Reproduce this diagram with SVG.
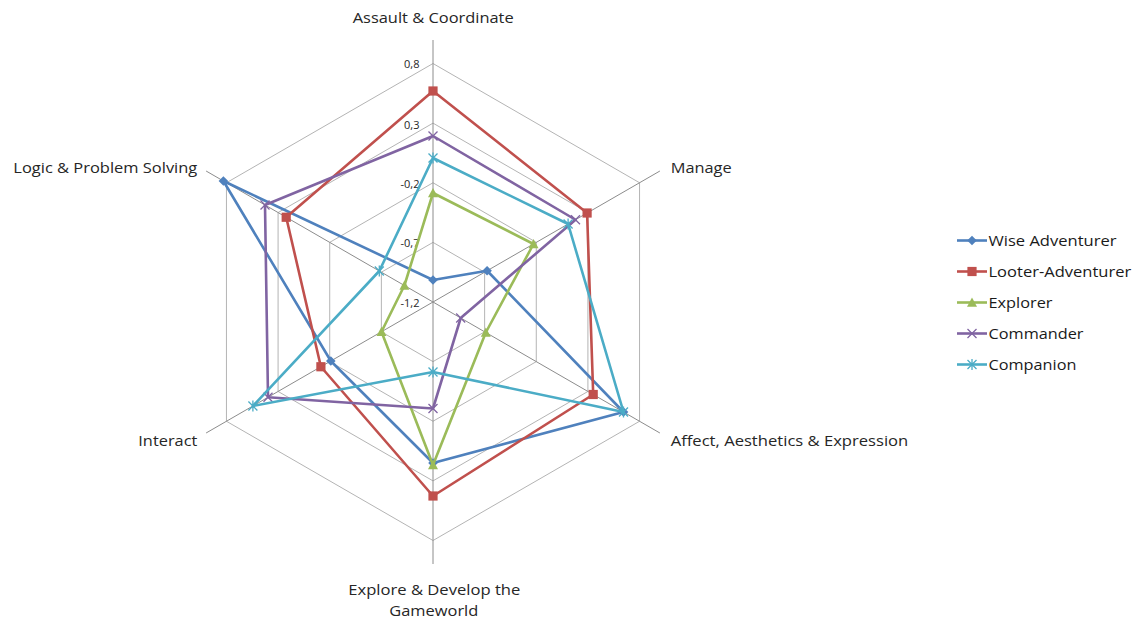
<svg xmlns="http://www.w3.org/2000/svg" width="1142" height="624" viewBox="0 0 1142 624">
<style>
.grid{fill:none;stroke:#b4b4b4;stroke-width:1}
.spoke{stroke:#8c8c8c;stroke-width:1}
.s{fill:none;stroke-width:2.6;stroke-linejoin:round}
.lbl{font-family:"Open Sans","Liberation Sans",sans-serif;font-size:14.5px;fill:#262626}
.tick{font-family:"Open Sans","Liberation Sans",sans-serif;font-size:11px;fill:#262626;text-anchor:end}
.leg{font-family:"Open Sans","Liberation Sans",sans-serif;font-size:15px;fill:#1a1a1a}
</style>
<defs>
<marker id="mDia" markerUnits="userSpaceOnUse" markerWidth="12" markerHeight="12" viewBox="-6 -6 12 12" refX="0" refY="0" overflow="visible"><polygon points="0,-4.8 4.8,0 0,4.8 -4.8,0" fill="#4F81BD"/></marker>
<marker id="mSq" markerUnits="userSpaceOnUse" markerWidth="12" markerHeight="12" viewBox="-6 -6 12 12" refX="0" refY="0" overflow="visible"><rect x="-4.6" y="-4.6" width="9.2" height="9.2" fill="#C0504D"/></marker>
<marker id="mTri" markerUnits="userSpaceOnUse" markerWidth="12" markerHeight="12" viewBox="-6 -6 12 12" refX="0" refY="0" overflow="visible"><polygon points="0,-5 5,4.2 -5,4.2" fill="#9BBB59"/></marker>
<marker id="mX" markerUnits="userSpaceOnUse" markerWidth="12" markerHeight="12" viewBox="-6 -6 12 12" refX="0" refY="0" overflow="visible"><path d="M-4.5,-4.5L4.5,4.5M-4.5,4.5L4.5,-4.5" stroke="#8064A2" stroke-width="1.3" fill="none"/></marker>
<marker id="mAst" markerUnits="userSpaceOnUse" markerWidth="12" markerHeight="12" viewBox="-6 -6 12 12" refX="0" refY="0" overflow="visible"><path d="M-4.5,-4.5L4.5,4.5M-4.5,4.5L4.5,-4.5M0,-5.5L0,5.5" stroke="#4BACC6" stroke-width="1.3" fill="none"/></marker>
</defs>
<rect width="1142" height="624" fill="#ffffff"/>
<g id="grid">
<polygon class="grid" points="433,242.38 484.64,272.19 484.64,331.81 433,361.63 381.36,331.81 381.36,272.19"/>
<polygon class="grid" points="433,182.75 536.27,242.37 536.27,361.63 433,421.25 329.73,361.63 329.73,242.37"/>
<polygon class="grid" points="433,123.13 587.91,212.56 587.91,391.44 433,480.88 278.09,391.44 278.09,212.56"/>
<polygon class="grid" points="433,63.5 639.55,182.75 639.55,421.25 433,540.5 226.45,421.25 226.45,182.75"/>
<line class="spoke" x1="433" y1="302" x2="433" y2="40"/>
<line class="spoke" x1="433" y1="302" x2="659.9" y2="171"/>
<line class="spoke" x1="433" y1="302" x2="659.9" y2="433"/>
<line class="spoke" x1="433" y1="302" x2="433" y2="564"/>
<line class="spoke" x1="433" y1="302" x2="206.1" y2="433"/>
<line class="spoke" x1="433" y1="302" x2="206.1" y2="171"/>
</g>
<g id="ticks">
<text class="tick" x="419.5" y="67.5">0,8</text>
<text class="tick" x="419.5" y="128.5">0,3</text>
<text class="tick" x="419.5" y="188">-0,2</text>
<text class="tick" x="419.5" y="247">-0,7</text>
<text class="tick" x="419.5" y="307">-1,2</text>
</g>
<g id="axis-labels">
<text id="ax-assault" class="lbl" x="352.7" y="22.7" textLength="161" lengthAdjust="spacingAndGlyphs">Assault &amp; Coordinate</text>
<text id="ax-manage" class="lbl" x="670.7" y="172.7" textLength="61" lengthAdjust="spacingAndGlyphs">Manage</text>
<text id="ax-affect" class="lbl" x="670.7" y="446" textLength="237.6" lengthAdjust="spacingAndGlyphs">Affect, Aesthetics &amp; Expression</text>
<text id="ax-explore1" class="lbl" x="348.3" y="595" textLength="172" lengthAdjust="spacingAndGlyphs">Explore &amp; Develop the</text>
<text id="ax-explore2" class="lbl" x="389.3" y="616" textLength="89" lengthAdjust="spacingAndGlyphs">Gameworld</text>
<text id="ax-interact" class="lbl" x="138.3" y="446" textLength="59" lengthAdjust="spacingAndGlyphs">Interact</text>
<text id="ax-logic" class="lbl" x="13.3" y="172.7" textLength="184" lengthAdjust="spacingAndGlyphs">Logic &amp; Problem Solving</text>
</g>
<g id="connectors">
<path id="s-wise" class="s" stroke="#4F81BD" marker-start="url(#mDia)" marker-mid="url(#mDia)" d="M433,280 L487.1,270.75 L623.5,412 L433,463 L330.8,361 L223.4,181 Z"/>
<path id="s-looter" class="s" stroke="#C0504D" marker-start="url(#mSq)" marker-mid="url(#mSq)" d="M433,91 L587.1,213 L593.2,394.5 L433,496 L320.9,366.75 L286.2,217.25 Z"/>
<path id="s-explorer" class="s" stroke="#9BBB59" marker-start="url(#mTri)" marker-mid="url(#mTri)" d="M433,193 L533.5,244 L485.8,332.5 L433,465 L381.5,331.75 L404.4,285.5 Z"/>
<path id="s-commander" class="s" stroke="#8064A2" marker-start="url(#mX)" marker-mid="url(#mX)" d="M433,136 L575.5,219.75 L460.7,318 L433,408.5 L268,397.25 L265,205 Z"/>
<path id="s-companion" class="s" stroke="#4BACC6" marker-start="url(#mAst)" marker-mid="url(#mAst)" d="M433,158 L568.1,224 L623.5,412 L433,372 L252.9,406 L379.3,271 Z"/>
</g>
<g id="legend">
<g id="leg-wise"><line x1="957" y1="240.5" x2="987" y2="240.5" stroke="#4F81BD" stroke-width="2.6"/><polygon points="972,235.7 976.8,240.5 972,245.3 967.2,240.5" fill="#4F81BD"/><text class="leg" x="988.5" y="246" textLength="128" lengthAdjust="spacingAndGlyphs">Wise Adventurer</text></g>
<g id="leg-looter"><line x1="957" y1="271.5" x2="987" y2="271.5" stroke="#C0504D" stroke-width="2.6"/><rect x="967.4" y="266.9" width="9.2" height="9.2" fill="#C0504D"/><text class="leg" x="988.5" y="277" textLength="142.7" lengthAdjust="spacingAndGlyphs">Looter-Adventurer</text></g>
<g id="leg-explorer"><line x1="957" y1="302.5" x2="987" y2="302.5" stroke="#9BBB59" stroke-width="2.6"/><polygon points="972,297.5 977,306.7 967,306.7" fill="#9BBB59"/><text class="leg" x="988.5" y="308" textLength="64" lengthAdjust="spacingAndGlyphs">Explorer</text></g>
<g id="leg-commander"><line x1="957" y1="333.5" x2="987" y2="333.5" stroke="#8064A2" stroke-width="2.6"/><path d="M967.5,329L976.5,338M967.5,338L976.5,329" stroke="#8064A2" stroke-width="1.3"/><text class="leg" x="988.5" y="339" textLength="95" lengthAdjust="spacingAndGlyphs">Commander</text></g>
<g id="leg-companion"><line x1="957" y1="364.5" x2="987" y2="364.5" stroke="#4BACC6" stroke-width="2.6"/><path d="M967.5,360L976.5,369M967.5,369L976.5,360M972,359L972,370" stroke="#4BACC6" stroke-width="1.3"/><text class="leg" x="988.5" y="370" textLength="88" lengthAdjust="spacingAndGlyphs">Companion</text></g>
</g>
</svg>
